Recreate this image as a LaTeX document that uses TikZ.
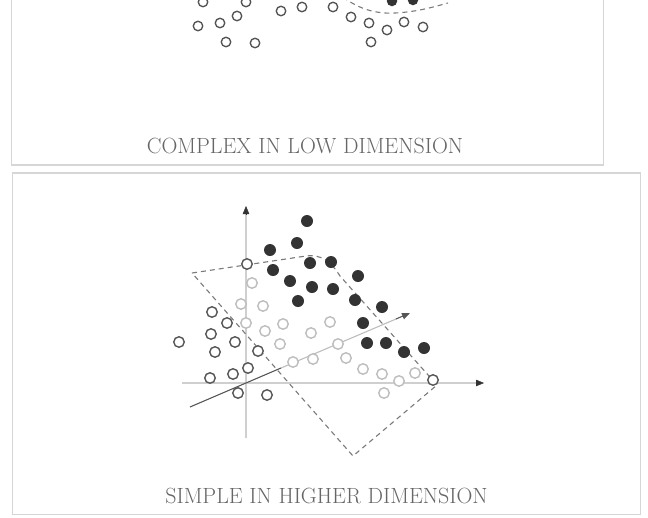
\documentclass[tikz,border=0pt]{standalone}
\usepackage{fontspec}
\usetikzlibrary{arrows.meta,calc}
\definecolor{frame}{HTML}{D6D6D6}
\definecolor{dark}{HTML}{333333}
\definecolor{odark}{HTML}{555555}
\definecolor{olight}{HTML}{BDBDBD}
\definecolor{dashc}{HTML}{7A7A7A}
\definecolor{axisc}{HTML}{CFCFCF}
\definecolor{txt}{HTML}{666666}
\tikzset{
  panel/.style={draw=frame, line width=1.8pt},
  caption/.style={anchor=base, text=txt, font=\fontsize{22}{26}\selectfont, inner sep=0pt},
  topo/.style={circle, draw=odark, line width=1.35pt, fill=white, minimum size=9.5pt, inner sep=0pt},
  topf/.style={circle, fill=dark, minimum size=10.5pt, inner sep=0pt},
  dk/.style={circle, fill=dark, minimum size=12pt, inner sep=0pt},
  od/.style={circle, draw=odark, line width=1.4pt, fill=white, minimum size=10.5pt, inner sep=0pt},
  ol/.style={circle, draw=olight, line width=1.4pt, fill=white, minimum size=10.5pt, inner sep=0pt},
  sep/.style={draw=dashc, line width=1.1pt, dash pattern=on 5pt off 4pt},
  axis/.style={draw=axisc, line width=2.4pt},
  tip/.style={-{Triangle[length=8pt,width=6.5pt]}},
}
\begin{document}
\begin{tikzpicture}[x=1pt,y=-1pt]
\useasboundingbox (0,0) rectangle (648,517);
% ---------- top panel ----------
\draw[panel] (11.5,-10) rectangle (603.5,165);
\coordinate (c0) at (343,-3);
\coordinate (c1) at (395,13);
\coordinate (c2) at (448,3);
\draw[sep] (c0) .. controls (360,10) and (378,14) .. (c1) .. controls (415,12) and (430,8) .. (c2);
\foreach \x/\y [count=\i] in {203/2,246/2,198/26,220/23,237/16,281/11,302/7,333/7,351/17,369/23,387/30,404/22,423/27,226/42,255/43,371/42}
  \node[topo] (t\i) at (\x,\y) {};
\foreach \x/\y [count=\i] in {392/1,413/0}
  \node[topf] (tf\i) at (\x,\y) {};
\node[caption] (cap1) at (305,153) {COMPLEX IN LOW DIMENSION};
% ---------- bottom panel ----------
\draw[panel] (12.5,173) rectangle (640.5,514.5);
% axes
\coordinate (vb) at (246,438);
\coordinate (vt) at (246,206);
\coordinate (vt0) at (246,214);
\coordinate (hl) at (182,383);
\coordinate (hr) at (484,383);
\coordinate (hr0) at (476,383);
\coordinate (da) at (190,407);
\coordinate (dm1) at (281,368);
\coordinate (dm2) at (396,319);
\coordinate (db) at (410,313);
\draw[axis] (vb) -- (vt0);
\draw[axis] (hl) -- (hr0);
\draw[dark, tip, line width=0.4pt] (vt0) -- (vt);
\draw[dark, tip, line width=0.4pt] (hr0) -- (hr);
\draw[olight, line width=1.1pt] (dm1) -- (dm2);
\draw[odark, line width=1.1pt] (da) -- (dm1);
\draw[odark, line width=1.1pt, tip] (dm2) -- (db);
% dashed plane
\coordinate (pa) at (192,273);
\coordinate (pb) at (306,256);
\coordinate (pc) at (340,276);
\coordinate (pd) at (437,385);
\coordinate (pe) at (353,456);
\draw[sep] (pa) -- (pb) .. controls (322,254) and (331,262) .. (pc) -- (pd) -- (pe) -- cycle;
% light open circles
\foreach \x/\y [count=\i] in {252/283,241/304,263/306,246/323,265/331,283/324,280/344,311/333,330/322,293/362,313/359,338/344,346/358,363/369,382/374,399/381,415/373,384/393}
  \node[ol] (l\i) at (\x,\y) {};
% dark open circles
\foreach \x/\y [count=\i] in {247/264,212/312,227/323,211/334,179/342,235/342,215/352,258/351,248/368,233/374,210/378,238/393,267/395,433/380}
  \node[od] (o\i) at (\x,\y) {};
% filled circles
\foreach \x/\y [count=\i] in {307/221,297/243,270/250,273/270,310/263,331/262,290/281,312/287,333/289,298/301,358/276,355/300,382/307,363/323,367/343,386/343,404/352,424/348}
  \node[dk] (f\i) at (\x,\y) {};
\node[caption] (cap2) at (326.5,503) {SIMPLE IN HIGHER DIMENSION};
\end{tikzpicture}
\end{document}
